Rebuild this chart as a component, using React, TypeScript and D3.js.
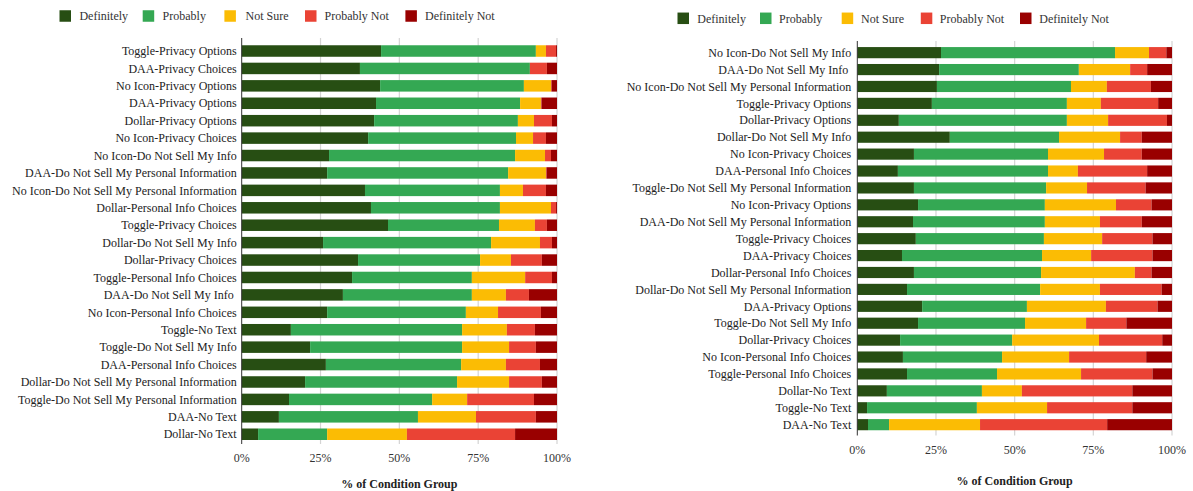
import React from "react";
import * as d3 from "d3";

const seriesNames = ["Definitely", "Probably", "Not Sure", "Probably Not", "Definitely Not"];
const seriesColors = ["#274e13", "#34a853", "#fbbc04", "#ea4335", "#990000"];
const tickValues = [0, 25, 50, 75, 100];
const axisTitle = "% of Condition Group";

const leftCategories = [
  "Toggle-Privacy Options", "DAA-Privacy Choices", "No Icon-Privacy Options", "DAA-Privacy Options",
  "Dollar-Privacy Options", "No Icon-Privacy Choices", "No Icon-Do Not Sell My Info",
  "DAA-Do Not Sell My Personal Information", "No Icon-Do Not Sell My Personal Information",
  "Dollar-Personal Info Choices", "Toggle-Privacy Choices", "Dollar-Do Not Sell My Info",
  "Dollar-Privacy Choices", "Toggle-Personal Info Choices", "DAA-Do Not Sell My Info ",
  "No Icon-Personal Info Choices", "Toggle-No Text", "Toggle-Do Not Sell My Info",
  "DAA-Personal Info Choices", "Dollar-Do Not Sell My Personal Information",
  "Toggle-Do Not Sell My Personal Information", "DAA-No Text", "Dollar-No Text",
];
const leftDefinitely = [44.2, 37.5, 43.9, 42.6, 42.0, 40.1, 27.7, 27.1, 39.1, 41.0, 46.4, 25.8, 36.9, 35.0, 32.1, 27.1, 15.6, 21.7, 26.7, 20.1, 15.0, 11.8, 5.2];
const leftProbably = [49.1, 53.9, 45.6, 45.7, 45.6, 46.9, 59.0, 57.4, 42.8, 40.9, 35.2, 53.3, 38.7, 38.0, 40.9, 44.0, 54.3, 48.2, 42.9, 48.2, 45.4, 44.1, 21.9];
const leftNotSure = [3.2, 0, 8.6, 6.6, 5.1, 5.4, 9.5, 12.0, 7.3, 16.2, 11.4, 15.5, 9.8, 16.9, 10.8, 10.2, 14.2, 14.9, 14.2, 16.5, 11.1, 18.4, 25.3];
const leftProbablyNot = [3.2, 5.4, 0.2, 0.2, 5.7, 4.1, 1.9, 0.2, 7.3, 1.6, 3.8, 3.8, 9.8, 8.5, 7.3, 13.6, 8.9, 8.5, 10.8, 10.4, 21.2, 19.0, 34.3];
const leftDefinitelyNot = [0.3, 3.2, 1.7, 4.9, 1.6, 3.5, 1.9, 3.3, 3.5, 0.3, 3.2, 1.6, 4.8, 1.6, 8.9, 5.1, 7.0, 6.7, 5.4, 4.8, 7.3, 6.7, 13.3];

const rightCategories = [
  "No Icon-Do Not Sell My Info", "DAA-Do Not Sell My Info ", "No Icon-Do Not Sell My Personal Information",
  "Toggle-Privacy Options", "Dollar-Privacy Options", "Dollar-Do Not Sell My Info", "No Icon-Privacy Choices",
  "DAA-Personal Info Choices", "Toggle-Do Not Sell My Personal Information", "No Icon-Privacy Options",
  "DAA-Do Not Sell My Personal Information", "Toggle-Privacy Choices", "DAA-Privacy Choices",
  "Dollar-Personal Info Choices", "Dollar-Do Not Sell My Personal Information", "DAA-Privacy Options",
  "Toggle-Do Not Sell My Info", "Dollar-Privacy Choices", "No Icon-Personal Info Choices",
  "Toggle-Personal Info Choices", "Dollar-No Text", "Toggle-No Text", "DAA-No Text",
];
const rightDefinitely = [26.6, 26.0, 25.3, 23.7, 13.2, 29.4, 18.0, 12.9, 18.0, 19.3, 17.7, 18.6, 14.2, 18.0, 15.8, 20.6, 19.3, 13.6, 14.5, 15.8, 9.4, 3.1, 3.4];
const rightProbably = [55.3, 44.4, 42.6, 42.9, 53.4, 34.7, 42.6, 47.7, 42.0, 40.3, 41.9, 40.7, 44.5, 40.4, 42.3, 33.3, 34.0, 35.6, 31.5, 28.6, 30.2, 34.9, 6.7];
const rightNotSure = [10.8, 16.3, 11.4, 10.8, 13.1, 19.4, 17.8, 9.5, 13.0, 22.6, 17.5, 18.5, 15.6, 29.8, 19.0, 25.1, 19.4, 27.6, 21.3, 26.7, 12.7, 22.3, 28.9];
const rightProbablyNot = [5.5, 5.4, 14.0, 18.2, 18.7, 6.9, 12.0, 22.0, 18.6, 11.3, 13.3, 16.0, 19.5, 5.3, 19.6, 16.4, 12.8, 20.1, 24.5, 22.7, 35.1, 27.1, 40.4];
const rightDefinitelyNot = [1.8, 7.9, 6.7, 4.4, 1.6, 9.6, 9.6, 7.9, 8.4, 6.5, 9.6, 6.2, 6.2, 6.5, 3.3, 4.6, 14.5, 3.1, 8.2, 6.2, 12.6, 12.6, 20.6];

const FONT = "'Liberation Serif', 'Times New Roman', serif";

type PanelProps = {
  categories: string[];
  values: number[][];
  x0: number;
  x1: number;
  bandTop: number;
  step: number;
  axisTop: number;
  axisBottom: number;
  tickY: number;
  titleY: number;
  labelGap: number;
  legendSwatchX: number[];
  legendTextX: number[];
  legendY: number;
};

function Panel(p: PanelProps) {
  const rows = p.categories.map((c, i) => {
    const r: any = { cat: c };
    seriesNames.forEach((s, k) => (r[s] = p.values[k][i]));
    return r;
  });
  const stack = d3.stack<any>().keys(seriesNames)(rows);
  const x = d3.scaleLinear().domain([0, 100]).range([p.x0, p.x1]);
  const y = d3
    .scaleBand<string>()
    .domain(p.categories)
    .range([p.bandTop, p.bandTop + p.step * p.categories.length])
    .paddingInner(0.34)
    .paddingOuter(0.17);
  return (
    <g>
      {seriesNames.map((s, k) => (
        <g key={s}>
          <rect x={p.legendSwatchX[k]} y={p.legendY - 5.75} width={11.5} height={11.5} fill={seriesColors[k]} />
          <text x={p.legendTextX[k]} y={p.legendY} dy="0.35em" fontSize={12} fill="#333" fontFamily={FONT}>
            {s}
          </text>
        </g>
      ))}
      {tickValues.filter((t) => t > 0).map((t) => (
        <line key={t} x1={x(t)} x2={x(t)} y1={p.axisTop} y2={p.axisBottom} stroke="#d4d4d4" strokeWidth={1.2} />
      ))}
      {stack.map((layer, k) => (
        <g key={layer.key} fill={seriesColors[k]}>
          {layer.map((d: any) => (
            <rect
              key={d.data.cat}
              x={x(d[0])}
              width={Math.max(0, x(d[1]) - x(d[0]))}
              y={y(d.data.cat)}
              height={y.bandwidth()}
            />
          ))}
        </g>
      ))}
      <line x1={p.x0} x2={p.x0} y1={p.axisTop} y2={p.axisBottom} stroke="#333" strokeWidth={1} />
      {p.categories.map((c) => (
        <text
          key={c}
          x={p.x0 - p.labelGap}
          y={(y(c) as number) + y.bandwidth() / 2}
          dy="0.35em"
          textAnchor="end"
          fontSize={12}
          fill="#222"
          fontFamily={FONT}
          style={{ whiteSpace: "pre" }}
        >
          {c}
        </text>
      ))}
      {tickValues.map((t) => (
        <text key={t} x={x(t)} y={p.tickY} dy="0.35em" textAnchor="middle" fontSize={12} fill="#333" fontFamily={FONT}>
          {t + "%"}
        </text>
      ))}
      <text
        x={(p.x0 + p.x1) / 2}
        y={p.titleY}
        dy="0.35em"
        textAnchor="middle"
        fontSize={12}
        fontWeight="bold"
        fill="#222"
        fontFamily={FONT}
      >
        {axisTitle}
      </text>
    </g>
  );
}

export default function App() {
  return (
    <svg
      width={1193}
      height={491}
      style={{ position: "absolute", left: 0, top: 0, background: "#fff" }}
    >
      <Panel
        categories={leftCategories}
        values={[leftDefinitely, leftProbably, leftNotSure, leftProbablyNot, leftDefinitelyNot]}
        x0={241.7}
        x1={557}
        bandTop={42.3}
        step={17.42}
        axisTop={38}
        axisBottom={444}
        tickY={458}
        titleY={484}
        labelGap={5}
        legendSwatchX={[59.5, 142.7, 224.4, 305, 405.4]}
        legendTextX={[79.4, 162.6, 245.5, 324.5, 425]}
        legendY={16}
      />
      <Panel
        categories={rightCategories}
        values={[rightDefinitely, rightProbably, rightNotSure, rightProbablyNot, rightDefinitelyNot]}
        x0={857.3}
        x1={1172}
        bandTop={44.2}
        step={16.91}
        axisTop={41}
        axisBottom={435.5}
        tickY={450}
        titleY={481}
        labelGap={6}
        legendSwatchX={[677.5, 760, 841.7, 920.8, 1020]}
        legendTextX={[697.3, 779, 861, 939.8, 1039.3]}
        legendY={18.3}
      />
    </svg>
  );
}
